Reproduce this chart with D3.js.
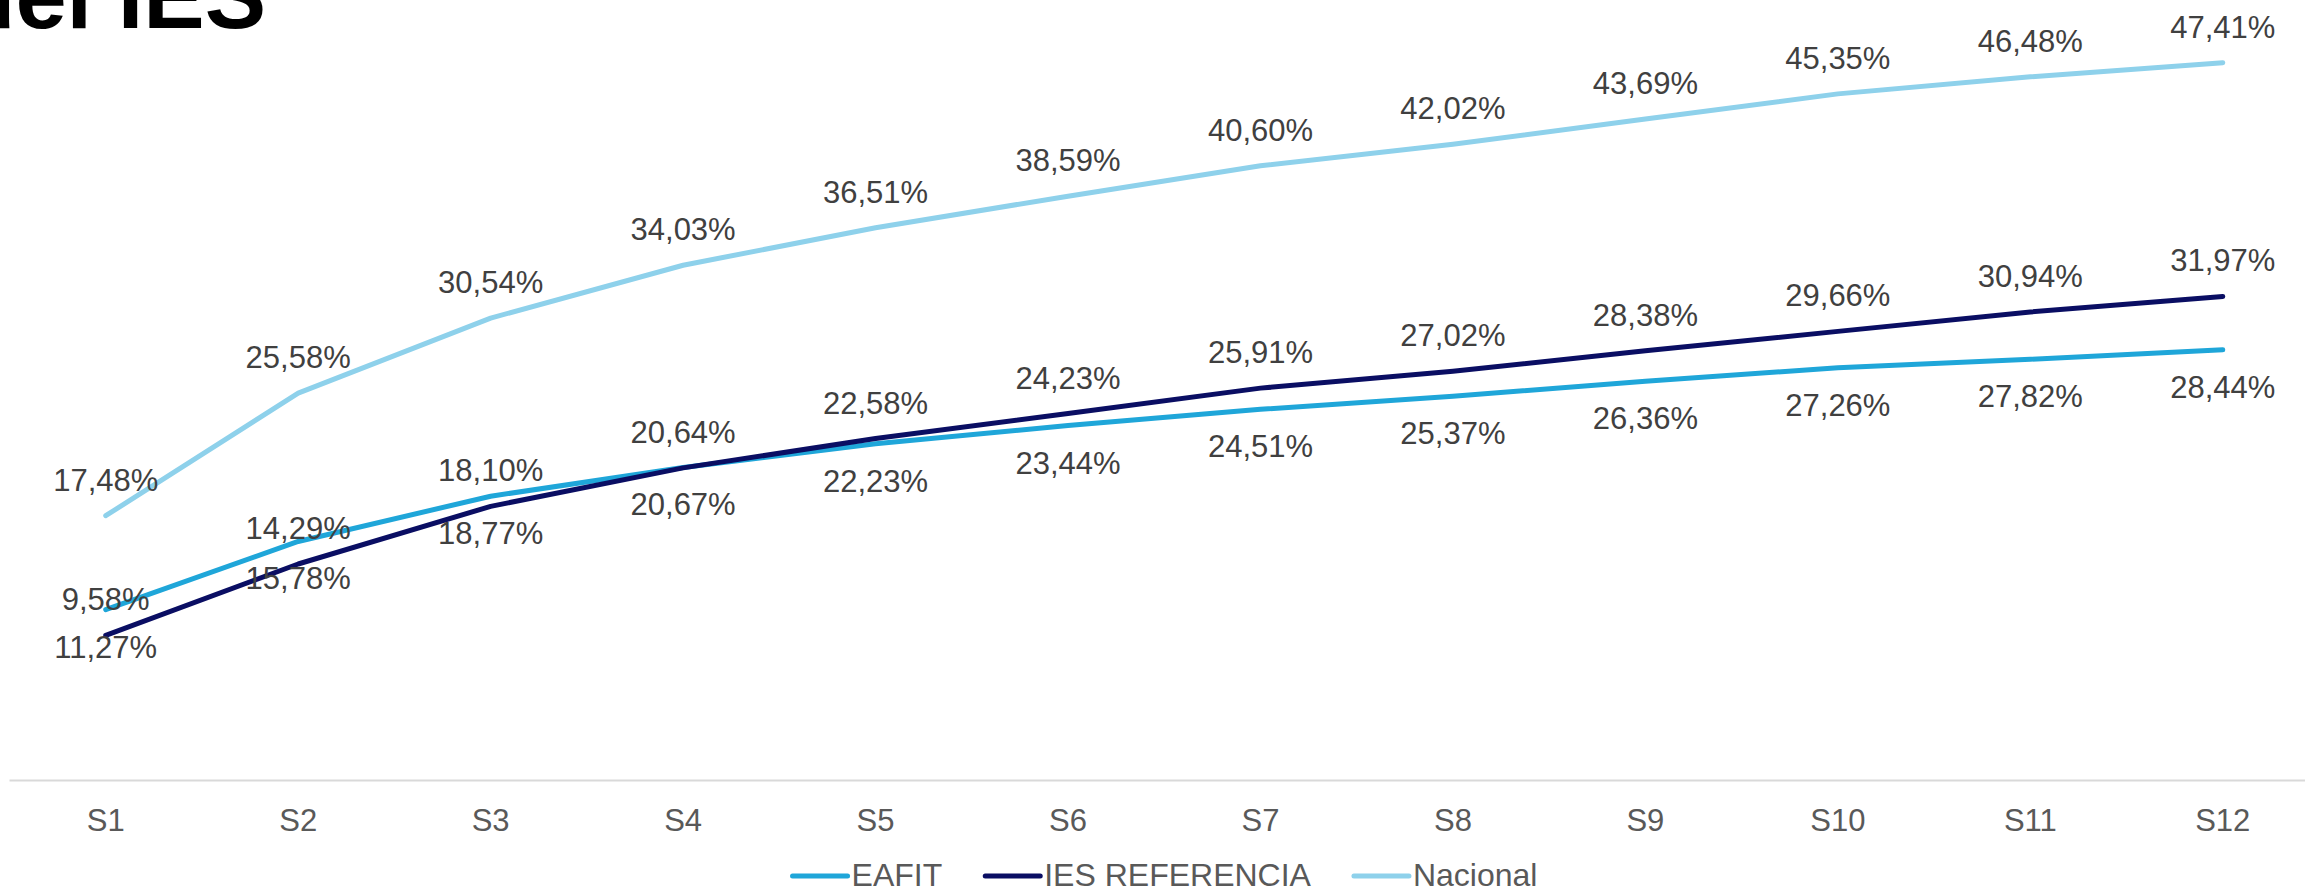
<!DOCTYPE html>
<html>
<head>
<meta charset="utf-8">
<script src="https://cdn.jsdelivr.net/npm/d3@7"></script>
<style>
  html, body { margin: 0; padding: 0; background: #fff; }
  svg { display: block; }
  text { font-family: "Liberation Sans", Arial, sans-serif; }
</style>
</head>
<body>
<svg id="chart" width="2305" height="893"></svg>
<script>
const categories = ["S1","S2","S3","S4","S5","S6","S7","S8","S9","S10","S11","S12"];
const eafit = [11.27, 15.78, 18.77, 20.67, 22.23, 23.44, 24.51, 25.37, 26.36, 27.26, 27.82, 28.44];
const iesReferencia = [9.58, 14.29, 18.10, 20.64, 22.58, 24.23, 25.91, 27.02, 28.38, 29.66, 30.94, 31.97];
const nacional = [17.48, 25.58, 30.54, 34.03, 36.51, 38.59, 40.60, 42.02, 43.69, 45.35, 46.48, 47.41];
const seriesNames = ["EAFIT", "IES REFERENCIA", "Nacional"];
const titleText = "del IES";

const svg = d3.select("#chart");

const series = [
  { name: seriesNames[0], values: eafit, color: "#1FA6D9", labelPos: "below" },
  { name: seriesNames[1], values: iesReferencia, color: "#0A0E63", labelPos: "above" },
  { name: seriesNames[2], values: nacional, color: "#8ED1EB", labelPos: "above" }
];

const x = d3.scaleBand().domain(categories).range([9.5, 2319]).padding(0);
const cx = c => x(c) + x.bandwidth() / 2;
const y = d3.scaleLinear().domain([0, 50]).range([780.3, 23.5]);

// title (clipped at top, as in the reference)
svg.append("text")
  .attr("x", 266).attr("y", 28)
  .attr("text-anchor", "end")
  .attr("font-size", 92).attr("font-weight", "bold")
  .attr("fill", "#000")
  .text(titleText);

// x axis
const xAxis = d3.axisBottom(x).tickSize(0).tickPadding(0);
const gx = svg.append("g").attr("transform", "translate(0,780.5)").call(xAxis);
gx.select(".domain").attr("stroke", "#D9D9D9").attr("stroke-width", 2)
  .attr("d", "M9.5,0H2305");
gx.selectAll(".tick text")
  .attr("dy", null).attr("y", 50)
  .attr("font-size", 31).attr("fill", "#595959")
  .attr("font-family", "Liberation Sans, Arial, sans-serif");

// lines
const line = d3.line().x((d, i) => cx(categories[i])).y(d => y(d));
series.forEach(s => {
  svg.append("path")
    .datum(s.values)
    .attr("d", line)
    .attr("fill", "none")
    .attr("stroke", s.color)
    .attr("stroke-width", 5)
    .attr("stroke-linecap", "round")
    .attr("stroke-linejoin", "round");
});

// labels
const fmt = v => v.toFixed(2).replace(".", ",") + "%";
series.forEach(s => {
  svg.append("g").selectAll("text")
    .data(s.values)
    .join("text")
    .attr("x", (d, i) => cx(categories[i]))
    .attr("y", d => s.labelPos === "above" ? y(d) - 25 : y(d) + 48)
    .attr("text-anchor", "middle")
    .attr("font-size", 31)
    .attr("fill", "#404040")
    .text(d => fmt(d));
});

// legend
const lg = svg.append("g");
let lx = 0;
series.forEach((s, i) => {
  const g = lg.append("g");
  g.append("line").attr("x1", 0).attr("x2", 55).attr("y1", -10).attr("y2", -10)
    .attr("stroke", s.color).attr("stroke-width", 5).attr("stroke-linecap", "round");
  const t = g.append("text").attr("x", 59).attr("y", 0)
    .attr("font-size", 32).attr("fill", "#595959").text(s.name);
  const w = 59 + t.node().getComputedTextLength();
  g.attr("transform", `translate(${lx},0)`);
  lx += w + 43;
});
const totalW = lx - 43;
lg.attr("transform", `translate(${1165 - totalW / 2},886)`);
</script>
</body>
</html>
